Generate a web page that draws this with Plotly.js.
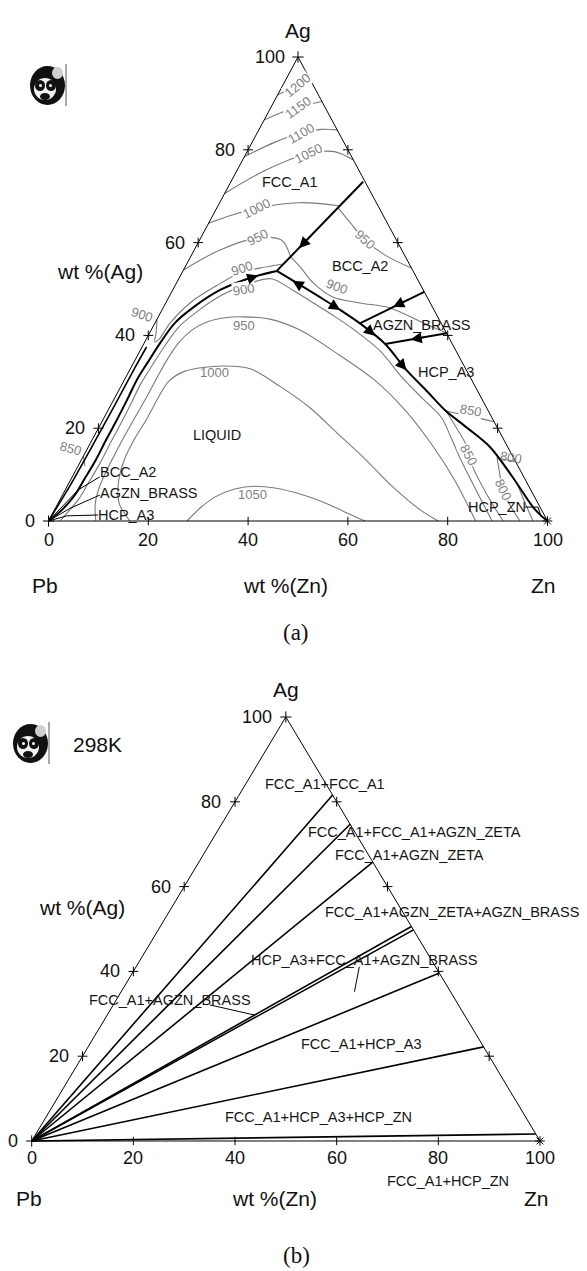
<!DOCTYPE html>
<html><head><meta charset="utf-8">
<script src="https://cdn.plot.ly/plotly-3.0.1.min.js"></script>
<style>html,body{margin:0;padding:0;background:#fff;}#chart{width:587px;height:1271px;}</style>
</head><body><div id="chart"></div>
<script>
// ===== DATA: points are [wt% Zn, wt% Ag] =====
const corners = [[0,0],[100,0],[0,100],[0,0]];
const tickValues = [20,40,60,80];
const tickLabelValues = [0,20,40,60,80,100];
const tickLabels = ['0','20','40','60','80','100'];

// (a) isotherms (K)
const iso1200 = [[0,91.8],[2.9,93.9],[5.0,95.0]];
const iso1150 = [[0,86.4],[3.0,88.2],[5.4,89.2],[9.6,90.4]];
const iso1100 = [[0,78.5],[4.5,81.6],[8.8,83.6],[12.5,84.4],[15.7,84.3]];
const iso1050 = [[0,70.6],[6.0,75.8],[12.5,79.2],[17.5,79.6],[22.2,77.8]];
const iso1000 = [[0,64.2],[4.0,66.0],[8.0,67.4],[16.0,68.6],[24.4,67.9]];
const iso950 = [[0,54.1],[5.0,58.3],[11.4,61.0],[16.5,60.5],[20.0,57.0]];
const iso900fcc = [[0,43.5],[1.3,40.5],[2.0,38.6],[2.6,39.2],[3.0,42.5],[5.0,47.2],[8.3,50.7],[11.5,53.4],[15.0,54.5],[19.3,55.4]];
const bcc950 = [[24.3,67.5],[28.2,64.4],[33.1,60.6],[38.8,57.3],[45.5,54.5]];
const bcc900 = [[20.0,57.0],[23.0,54.8],[27.4,51.3],[32.8,48.3],[38.9,47.0],[45.5,45.9],[53.7,42.7],[59.55,40.45]];
const liq900 = [[2.3,0],[2.8,1.6],[3.7,4.7],[3.9,8.4],[4.1,12.2],[4.0,16.6],[4.0,20.9],[3.9,25.2],[3.7,29.5],[4.0,33.4],[4.4,37.5],[5.2,41.8],[7.4,45.4],[10.7,48.9],[15.9,51.7],[18.6,52.2],[24.0,49.8],[29.6,47.0],[35.5,44.0],[41.0,41.0],[48.2,36.6],[55.3,31.0],[61.9,26.3],[67.6,22.3],[72.1,17.5],[76.5,12.7],[83.0,6.0],[88.9,0]];
const liq950 = [[9.5,0],[7.6,3.5],[6.6,7.0],[6.2,11.0],[6.1,15.0],[6.1,19.0],[6.2,23.0],[6.3,27.0],[6.3,31.0],[6.4,35.0],[6.9,38.5],[8.2,41.2],[10.5,43.0],[13.5,43.8],[17.0,44.0],[22.6,43.5],[29.7,41.2],[39.2,36.4],[50.1,30.4],[59.5,23.9],[68.2,16.8],[77.0,8.8],[85.6,0]];
const liq1000 = [[16.3,0],[12.6,3.4],[11.1,5.6],[9.5,9.3],[8.6,13.1],[8.4,17.5],[8.7,21.8],[8.7,26.5],[9.0,30.0],[11.2,32.3],[18.1,33.4],[24.0,32.8],[32.1,28.9],[40.2,24.4],[48.3,19.0],[56.7,13.4],[65.4,7.3],[73.3,2.4],[78.1,0]];
const liq1050 = [[27.75,0],[29.0,2.8],[30.8,5.2],[33.9,6.9],[37.5,7.5],[41.8,7.1],[47.5,5.8],[53.5,3.9],[58.5,1.9],[63.4,0]];
const liq850 = [[67.8,23.7],[71.8,20.0],[75.5,16.4],[78.8,12.1],[85.1,5.6],[91.1,0]];
const liq800 = [[83.1,13.6],[84.8,11.0],[87.7,6.7],[91.2,3.0],[94.5,0]];
const liq750 = [[90.1,7.8],[94.0,3.4],[97.1,0]];
const hcp850 = [[67.8,23.7],[73.2,22.6],[78.6,21.4]];
const hcp800 = [[83.1,13.6],[87.2,12.8]];
const left850 = [[0,14.0],[1.4,11.8]];

// (a) univariant lines
const bndC1 = [[26.5,73.1],[18.8,53.9]];
const bndC2 = [[18.8,53.9],[14.7,52.6],[9.5,49.8],[6.2,46.3],[4.0,42.7],[3.2,38.4],[2.8,34.3],[2.5,30.4],[2.7,26.1],[2.8,21.8],[2.8,17.5],[2.9,13.1],[2.7,9.3],[2.5,5.6],[1.5,2.4],[0,0]];
const bndC3 = [[18.8,53.9],[24.1,51.3],[29.75,48.5],[35.7,45.5],[41.1,42.6],[48.4,38.15],[55.5,32.5],[62.1,27.8],[67.8,23.7],[74.0,20.0],[80.5,15.95],[88.0,9.7],[95.6,3.0],[98.2,1.1],[100,0]];
const bndC4 = [[50.6,49.4],[41.1,42.6]];
const bndC5 = [[59.55,40.45],[48.4,38.15]];
const bndL2 = [[0,0],[0.5,7.8],[0.7,17],[0.8,26],[0.8,33],[0.9,37.5]];
const leadersA = [
  [[5.5,9.5],[2.6,6.7],[0,0]],
  [[7.5,5.6],[2.9,2.7],[0,0]],
  [[9.3,1.3],[3.1,1.1],[0,0]],
  [[94.0,3.0],[96.6,3.0],[98.3,0.9]]
];
// arrows: [head, tail]
const arrowsA = [
  [[20.8,58.8],[22.0,61.8]],
  [[15.6,52.9],[12.5,51.6]],
  [[23.0,51.8],[25.6,50.5]],
  [[35.7,45.5],[32.7,47.0]],
  [[45.5,39.9],[43.0,41.5]],
  [[55.5,32.5],[52.5,34.8]],
  [[46.0,46.1],[48.5,47.9]],
  [[53.0,39.1],[56.0,39.7]]
];
const phaseNamesA = ['FCC_A1','BCC_A2','AGZN_BRASS','HCP_A3','LIQUID','BCC_A2','AGZN_BRASS','HCP_A3','HCP_ZN'];
const phasePosA = [[11.9,73.1],[34.9,55.0],[53.7,42.2],[63.7,32.1],[24.5,18.5],[10.6,10.6],[17.1,6.0],[14.9,1.3],[88.3,3.0]];
const isoLabelText = ['1200','1150','1100','1050','1000','950','900','900','900','950','900','950','1000','1050','850','800','850','800','850'];
const isoLabelPos = [[2.9,93.9],[5.4,89.2],[8.8,83.6],[12.5,79.2],[8.0,67.4],[11.4,61.0],[11.45,54.5],[14.2,49.8],[-3.5,44.4],[33.1,60.6],[32.5,50.5],[18.0,42.2],[17.4,31.9],[37.9,5.8],[72.8,23.9],[85.9,13.6],[77.2,14.2],[87.7,6.7],[-3.4,15.7]];
const isoLabelAngle = [-40,-35,-30,-27,-27,-27,-18,-10,18,42,20,0,0,0,10,10,62,65,15];
const isoLabelMask = [1,1,1,1,1,1,1,1,0,1,1,0,0,0,1,0,1,1,0];

// (b) 298 K section: tie lines from the Pb corner to the Ag-Zn edge (wt% Ag at the end)
const tieAg = [81.6,74.7,65.8,50.6,49.8,39.6,22.2,1.65];
const leadersB = [[[43.9,41.1],[45.9,35.2]],[[19.0,32.1],[29.0,29.7]]];
const phaseNamesB = ['FCC_A1+FCC_A1','FCC_A1+FCC_A1+AGZN_ZETA','FCC_A1+AGZN_ZETA','FCC_A1+AGZN_ZETA+AGZN_BRASS','HCP_A3+FCC_A1+AGZN_BRASS','FCC_A1+AGZN_BRASS','FCC_A1+HCP_A3','FCC_A1+HCP_A3+HCP_ZN','FCC_A1+HCP_ZN'];
const phasePosB = [[15.6,84.2],[38.8,72.9],[40.7,67.4],[30.3,54.0],[44.0,42.7],[10.6,33.2],[53.3,22.9],[53.5,5.7],[86.6,-9.4]];

// ===== DRAWING =====
const FONT = 'Liberation Sans, Arial, Helvetica, sans-serif';
const GRAY = '#7a7a7a';
function T(p){ return [p[0] + p[1]/2, p[1]]; }
const traces = [];
const ann = [];
const shapes = [];
function addLine(pts, color, width, xa, ya, spline){
  traces.push({type:'scatter', mode:'lines', x:pts.map(p=>T(p)[0]), y:pts.map(p=>T(p)[1]),
    xaxis:xa, yaxis:ya, hoverinfo:'skip', cliponaxis:false,
    line:{color:color, width:width, shape: spline ? 'spline' : 'linear', smoothing:0.9}});
}
function addMarkers(pts, symbol, size, xa, ya){
  traces.push({type:'scatter', mode:'markers', x:pts.map(p=>T(p)[0]), y:pts.map(p=>T(p)[1]),
    xaxis:xa, yaxis:ya, hoverinfo:'skip', cliponaxis:false,
    marker:{symbol:symbol, size:size, color:'black', line:{color:'black', width:1}}});
}
function addText(xy, text, opt, xa, ya){
  ann.push(Object.assign({x:xy[0], y:xy[1], xref:xa, yref:ya, text:text, showarrow:false,
    font:{family:FONT, size:14.5, color:'#151515'}}, opt||{}));
}
function frame(xa, ya, tagY, title){
  addLine(corners, 'black', 1, xa, ya, false);
  addMarkers(tickValues.map(t=>[0,t]), 'cross-thin-open', 7, xa, ya);
  addMarkers(tickValues.map(t=>[100-t,t]), 'cross-thin-open', 7, xa, ya);
  addMarkers(tickValues.map(t=>[t,0]), 'line-ns-open', 6, xa, ya);
  addMarkers([[0,0],[0,100]], 'cross-thin-open', 8, xa, ya);
  addMarkers([[100,0]], 'asterisk-open', 8, xa, ya);
  tickLabelValues.forEach((v,i)=>{
    addText([v/2 - 2.3, v], tickLabels[i], {xanchor:'right', font:{family:FONT,size:18,color:'#111'}}, xa, ya);
    addText([v, tagY.tick], tickLabels[i], {font:{family:FONT,size:18,color:'#111'}}, xa, ya);
  });
  addText([50, tagY.ag], 'Ag', {font:{family:FONT,size:21,color:'#111'}}, xa, ya);
  addText([tagY.pbX, tagY.el], 'Pb', {font:{family:FONT,size:21,color:'#111'}}, xa, ya);
  addText([tagY.znTitleX, tagY.el], 'wt %(Zn)', {font:{family:FONT,size:21,color:'#111'}}, xa, ya);
  addText([tagY.znX, tagY.el], 'Zn', {font:{family:FONT,size:21,color:'#111'}}, xa, ya);
  addText([tagY.agTitleX, tagY.agTitleY], 'wt %(Ag)', {font:{family:FONT,size:21,color:'#111'}}, xa, ya);
  addText([tagY.capX, tagY.cap], title, {font:{family:'Liberation Serif, Times New Roman, serif',size:23,color:'#111'}}, xa, ya);
}

// ---- (a) ----
[iso1200, iso1150, iso1100, iso1050, iso1000, iso950, iso900fcc, bcc950, bcc900,
 liq900, liq950, liq1000, liq1050, liq850, liq800, liq750, hcp850, hcp800, left850]
  .forEach(c => addLine(c, GRAY, 1.1, 'x', 'y', true));
isoLabelText.forEach((t,i)=>{
  addText(T(isoLabelPos[i]), t, Object.assign({textangle:isoLabelAngle[i],
    font:{family:FONT,size:13,color:'#808080'}},
    isoLabelMask[i] ? {bgcolor:'white', borderpad:0} : {}), 'x', 'y');
});
[bndC1, bndC4, bndC5].forEach(c => addLine(c, 'black', 2, 'x', 'y', false));
[bndC2, bndC3].forEach(c => addLine(c, 'black', 2, 'x', 'y', true));
addLine(bndL2, 'black', 1.6, 'x', 'y', true);
leadersA.forEach(c => addLine(c, 'black', 1, 'x', 'y', false));
arrowsA.forEach(a=>{
  const h = T(a[0]), t = T(a[1]);
  ann.push({x:h[0], y:h[1], ax:t[0], ay:t[1], xref:'x', yref:'y', axref:'x', ayref:'y',
    text:'', showarrow:true, arrowhead:2, arrowsize:1.6, arrowwidth:1.4, arrowcolor:'black', standoff:0});
});
phaseNamesA.forEach((n,i)=> addText(T(phasePosA[i]), n, {}, 'x', 'y'));
frame('x','y',{tick:-4.1, ag:105.8, el:-13.8, pbX:-0.7, znTitleX:47.4, znX:99.1, agTitleX:10.3, agTitleY:53.7, capX:49.6, cap:-24.1}, '(a)');

// ---- (b) ----
tieAg.forEach(a => addLine([[0,0],[100-a,a]], 'black', 1.6, 'x2', 'y2', false));
leadersB.forEach(c => addLine(c, 'black', 1, 'x2', 'y2', false));
phaseNamesB.forEach((n,i)=> addText(T(phasePosB[i]), n,
  i===3 ? {xanchor:'left', font:{family:FONT,size:14.5,color:'#151515'}} : {}, 'x2', 'y2'));
frame('x2','y2',{tick:-3.9, ag:106.4, el:-13.6, pbX:-0.5, znTitleX:47.7, znX:99.4, agTitleX:9.9, agTitleY:55.0, capX:52.0, cap:-26.9}, '(b)');
addText([12.95, 93.4], '298K', {font:{family:FONT,size:21,color:'#111'}}, 'x2', 'y2');

// ---- panda icons (decoration, pixel boxes) ----
function panda(ox, oy){
  const P = (px,py) => [px/587, 1 - py/1271];
  const ell = (x0,y0,x1,y1,col) => { const a=P(ox+x0,oy+y0), b=P(ox+x1,oy+y1);
    shapes.push({type:'circle', xref:'paper', yref:'paper', x0:a[0], y0:b[1], x1:b[0], y1:a[1], fillcolor:col, line:{width:0}}); };
  ell(0,0,35,39,'#111');
  ell(4,12,26,34,'#f2f2f2');
  ell(22,1,33,13,'#cfcfcf');
  ell(5,14,15,25,'#111');
  ell(16,14,26,25,'#111');
  ell(9,18,12,21,'#fff');
  ell(19,18,22,21,'#fff');
  ell(10,27,20,34,'#111');
  const l0 = P(ox+36, oy-2), l1 = P(ox+36, oy+40);
  shapes.push({type:'line', xref:'paper', yref:'paper', x0:l0[0], y0:l0[1], x1:l1[0], y1:l1[1], line:{color:'#555', width:1}});
}
panda(30, 66);
panda(13, 724);

const layout = {
  width:587, height:1271, margin:{l:0,r:0,t:0,b:0}, showlegend:false,
  paper_bgcolor:'white', plot_bgcolor:'rgba(0,0,0,0)',
  xaxis:{domain:[0,1], range:[-9.719,107.916], visible:false, fixedrange:true, anchor:'y'},
  yaxis:{domain:[0.49646,1], range:[-25.647,112.284], visible:false, fixedrange:true, anchor:'x'},
  xaxis2:{domain:[0,1], range:[-6.2365,109.246], visible:false, fixedrange:true, anchor:'y2'},
  yaxis2:{domain:[0,0.49646], range:[-30.66,118.16], visible:false, fixedrange:true, anchor:'x2'},
  annotations:ann, shapes:shapes
};
Plotly.newPlot('chart', traces, layout, {staticPlot:true, displayModeBar:false});
</script>
</body></html>
